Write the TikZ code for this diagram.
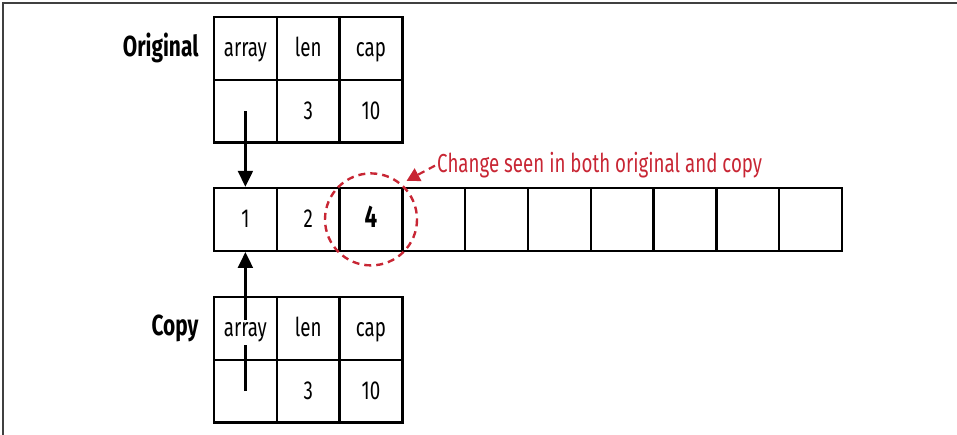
\documentclass[tikz,border=0pt]{standalone}
\usepackage{fontspec}
\setmainfont{Fira Sans}[FakeStretch=0.72]
\usetikzlibrary{arrows.meta,backgrounds}
\definecolor{notered}{RGB}{200,38,52}

\begin{document}
\begin{tikzpicture}[x=1pt,y=-1pt,
  cell/.style={draw,line width=2.4pt,minimum size=62.8pt,inner sep=0pt,
    text height=19pt,text depth=2pt,font=\fontsize{26}{30}\selectfont},
  tag/.style={font=\fontsize{29}{33}\selectfont\bfseries,anchor=base east},
  ptr/.style={-{Triangle[width=15pt,length=16pt]},line width=2.2pt},
  notearrow/.style={-{Triangle[width=14pt,length=13pt]},line width=2.2pt,
    dash pattern=on 7pt off 5pt,notered}]
\useasboundingbox (0,0) rectangle (957,435);
\draw[black!75,line width=1.6pt](957,3)--(3,3)--(3,435);

% original slice header
\node[tag](orig) at (202,57) {Original};
\node[cell](oh0) at (245.4,48.4) {array};
\node[cell](oh1) at (308.2,48.4) {len};
\node[cell](oh2) at (371.0,48.4) {cap};
\node[cell](oarr) at (245.4,111.2) {};
\node[cell](olen) at (308.2,111.2) {3};
\node[cell](ocap) at (371.0,111.2) {10};

% backing array
\foreach \v [count=\i from 0] in {1,2,{\fontsize{31}{35}\selectfont\bfseries 4},{},{},{},{},{},{},{}}
  \node[cell](a\i) at (245.4+62.8*\i,219.4) {\v};

% copy header
\node[tag](copy) at (202,335.5) {Copy};
\node[cell](ch0) at (245.4,328.4) {\fboxsep=3pt\colorbox{white}{array}};
\node[cell](ch1) at (308.2,328.4) {len};
\node[cell](ch2) at (371.0,328.4) {cap};
\node[cell](carr) at (245.4,391.2) {};
\node[cell](clen) at (308.2,391.2) {3};
\node[cell](ccap) at (371.0,391.2) {10};

\begin{scope}[on background layer]
\draw[ptr](oarr.center)--(a0.north);
\draw[ptr](carr.center)--(a0.south);
\end{scope}

% the changed element
\draw[notered,line width=2.4pt,dash pattern=on 7pt off 5pt](a2) circle(46);
\node[notered,anchor=base west,inner sep=2pt,font=\fontsize{26}{30}\selectfont](note) at (435,173) {Change seen in both original and copy};
\coordinate(hit) at ([shift={(3,-6)}]a2.north east);
\draw[notearrow](note.west)--(hit);
\end{tikzpicture}
\end{document}
